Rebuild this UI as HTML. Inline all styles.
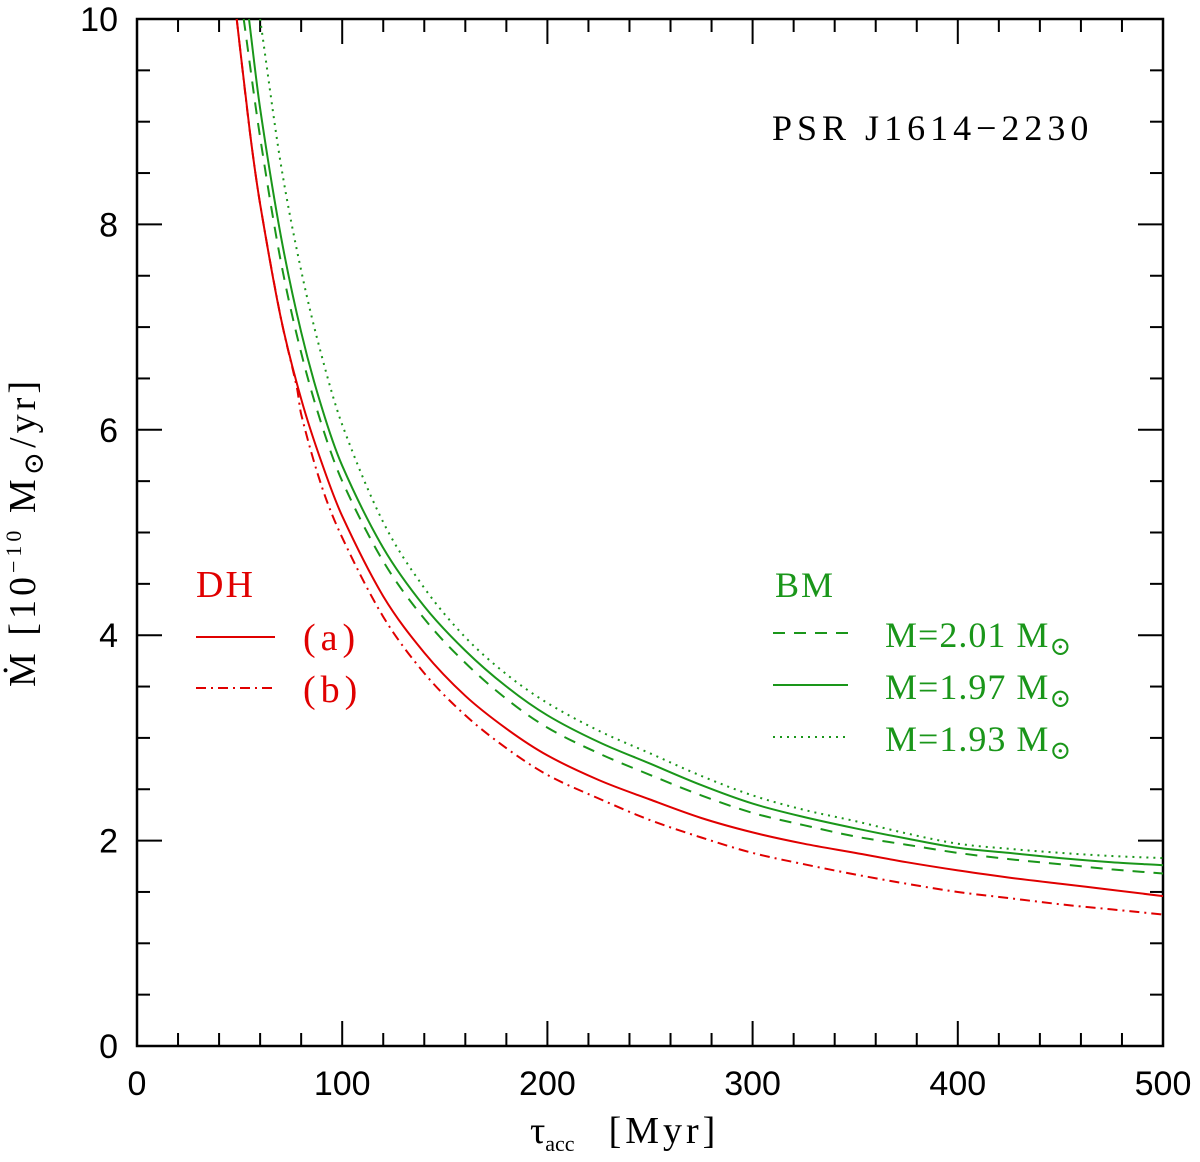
<!DOCTYPE html>
<html><head><meta charset="utf-8"><style>
body{margin:0;background:#fff}
svg text{font-family:"Liberation Serif","DejaVu Serif",serif}
</style></head><body>
<svg id="chart" width="1200" height="1157" xmlns="http://www.w3.org/2000/svg">
<g id="axes"></g>
<g id="series"></g>
<text x="772" y="140" font-size="36" letter-spacing="5" fill="#000">PSR J1614−2230</text>
<g fill="#e00000" font-size="38">
<text x="196" y="597" letter-spacing="2">DH</text>
<line x1="196" y1="637" x2="275" y2="637" stroke="#e00000" stroke-width="2"/>
<text x="303" y="650" letter-spacing="5">(a)</text>
<line x1="196" y1="688" x2="275" y2="688" stroke="#e00000" stroke-width="2" stroke-dasharray="10,5,2,5"/>
<text x="303" y="702" letter-spacing="5">(b)</text>
</g>
<g fill="#1a961a" font-size="36">
<text x="775" y="597" letter-spacing="2">BM</text>
<line x1="773" y1="633" x2="848" y2="633" stroke="#1a961a" stroke-width="2" stroke-dasharray="12,9"/>
<text x="885" y="647" letter-spacing="1">M=2.01 M<tspan font-size="26" dy="8">⊙</tspan></text>
<line x1="773" y1="685" x2="848" y2="685" stroke="#1a961a" stroke-width="2"/>
<text x="885" y="699" letter-spacing="1">M=1.97 M<tspan font-size="26" dy="8">⊙</tspan></text>
<line x1="773" y1="737" x2="848" y2="737" stroke="#1a961a" stroke-width="2" stroke-dasharray="2,5"/>
<text x="885" y="751" letter-spacing="1">M=1.93 M<tspan font-size="26" dy="8">⊙</tspan></text>
</g>
<text x="530" y="1143" font-size="38">τ<tspan font-size="22" dy="8">acc</tspan><tspan dy="-8" dx="34" letter-spacing="4">[Myr]</tspan></text>
<text transform="translate(35,532) rotate(-90)" text-anchor="middle" font-size="38" letter-spacing="4">Ṁ [10<tspan font-size="22" dy="-14">−10</tspan><tspan dy="14"> M</tspan><tspan font-size="28" dy="8">⊙</tspan><tspan dy="-8">/yr]</tspan></text>
</svg>
<script>
const xTicks=[0,100,200,300,400,500];
const yTicks=[0,2,4,6,8,10];
const tauA=[48.6,55,60,70,80,90,100,120,140,160,180,200,225,250,275,300,325,350,375,400,425,450,475,500];
const mdotA=[10,8.9,8.2,7.1,6.3,5.68,5.16,4.38,3.83,3.41,3.09,2.83,2.59,2.40,2.22,2.08,1.97,1.88,1.79,1.71,1.64,1.58,1.52,1.46];
const tauB=[48.6,55,60,70,78,80,90,100,120,140,160,180,200,225,250,275,300,325,350,375,400,425,450,475,500];
const mdotB=[10,8.9,8.2,7.1,6.4,6.15,5.45,4.95,4.18,3.63,3.22,2.90,2.64,2.41,2.20,2.03,1.88,1.77,1.67,1.58,1.50,1.44,1.38,1.33,1.28];
const tau197=[54.6,60,70,80,90,100,120,140,160,180,200,225,250,275,300,325,350,375,400,425,450,475,500];
const mdot197=[10,9.13,7.9,6.95,6.22,5.65,4.85,4.28,3.85,3.50,3.22,2.96,2.75,2.54,2.36,2.23,2.12,2.02,1.93,1.88,1.83,1.79,1.76];
const tau201=[52,60,70,80,90,100,120,140,160,180,200,225,250,275,300,325,350,375,400,425,450,475,500];
const mdot201=[10,8.85,7.65,6.75,6.05,5.5,4.72,4.16,3.73,3.38,3.10,2.85,2.64,2.44,2.27,2.15,2.04,1.96,1.88,1.82,1.77,1.72,1.68];
const tau193=[60,70,80,90,100,120,140,160,180,200,225,250,275,300,325,350,375,400,425,450,475,500];
const mdot193=[10,8.6,7.55,6.72,6.05,5.1,4.46,3.98,3.62,3.34,3.07,2.85,2.63,2.44,2.30,2.19,2.07,1.97,1.92,1.88,1.85,1.83];

const X0=137,X1=1163,Y0=1046,Y1=19;
const sx=v=>X0+(v-0)/(500-0)*(X1-X0);
const sy=v=>Y0-(v-0)/(10-0)*(Y0-Y1);
const NS="http://www.w3.org/2000/svg";
const axes=document.getElementById('axes');
const series=document.getElementById('series');
function mk(tag,attrs,parent){const e=document.createElementNS(NS,tag);for(const k in attrs)e.setAttribute(k,attrs[k]);parent.appendChild(e);return e;}

const frame=mk('rect',{x:X0,y:Y1,width:X1-X0,height:Y0-Y1,fill:'none',stroke:'#000','stroke-width':2.5},axes);


for(let v=0;v<=500;v+=20){
  const L=(v%100===0)?25:13;const x=sx(v);
  const t1=mk('line',{x1:x,y1:Y0,x2:x,y2:Y0-L,stroke:'#000','stroke-width':2},axes);
  
  
  const t2=mk('line',{x1:x,y1:Y1,x2:x,y2:Y1+L,stroke:'#000','stroke-width':2},axes);
  
  
}
for(let v=0;v<=10;v+=0.5){
  const L=(Math.abs(v%2)<1e-9)?25:13;const y=sy(v);
  const t1=mk('line',{x1:X0,y1:y,x2:X0+L,y2:y,stroke:'#000','stroke-width':2},axes);
  
  
  const t2=mk('line',{x1:X1,y1:y,x2:X1-L,y2:y,stroke:'#000','stroke-width':2},axes);
  
  
}
xTicks.forEach(v=>{
  const t=mk('text',{x:sx(v),y:1095,'text-anchor':'middle','font-size':34,style:'font-family:"Liberation Sans",sans-serif'},axes);
  t.textContent=v;
  
  
});
yTicks.forEach(v=>{
  const t=mk('text',{x:118,y:sy(v)+12,'text-anchor':'end','font-size':34,style:'font-family:"Liberation Sans",sans-serif'},axes);
  t.textContent=v;
  
  
});
function line(ts,ms,color,dash,name){
  const P=ts.map((t,i)=>[sx(t),sy(ms[i])]);
  let d='M'+P[0][0].toFixed(1)+','+P[0][1].toFixed(1);
  for(let i=0;i<P.length-1;i++){
    const p0=P[Math.max(0,i-1)],p1=P[i],p2=P[i+1],p3=P[Math.min(P.length-1,i+2)];
    const h=p2[0]-p1[0];
    const m1=(p2[1]-p0[1])/(p2[0]-p0[0]||1), m2=(p3[1]-p1[1])/(p3[0]-p1[0]||1);
    const c1=[p1[0]+h/3,p1[1]+m1*h/3];
    const c2=[p2[0]-h/3,p2[1]-m2*h/3];
    d+=' C'+c1[0].toFixed(1)+','+c1[1].toFixed(1)+' '+c2[0].toFixed(1)+','+c2[1].toFixed(1)+' '+p2[0].toFixed(1)+','+p2[1].toFixed(1);
  }
  const p=mk('path',{d:d,fill:'none',stroke:color,'stroke-width':2},series);
  if(dash)p.setAttribute('stroke-dasharray',dash);
  
  
}
line(tauA,mdotA,'#e00000',null,'dh-a-line');
line(tauB,mdotB,'#e00000','10,5,2,5','dh-b-line');
line(tau197,mdot197,'#1a961a',null,'bm-197-line');
line(tau201,mdot201,'#1a961a','12,9','bm-201-line');
line(tau193,mdot193,'#1a961a','2,5','bm-193-line');
</script>
</body></html>
